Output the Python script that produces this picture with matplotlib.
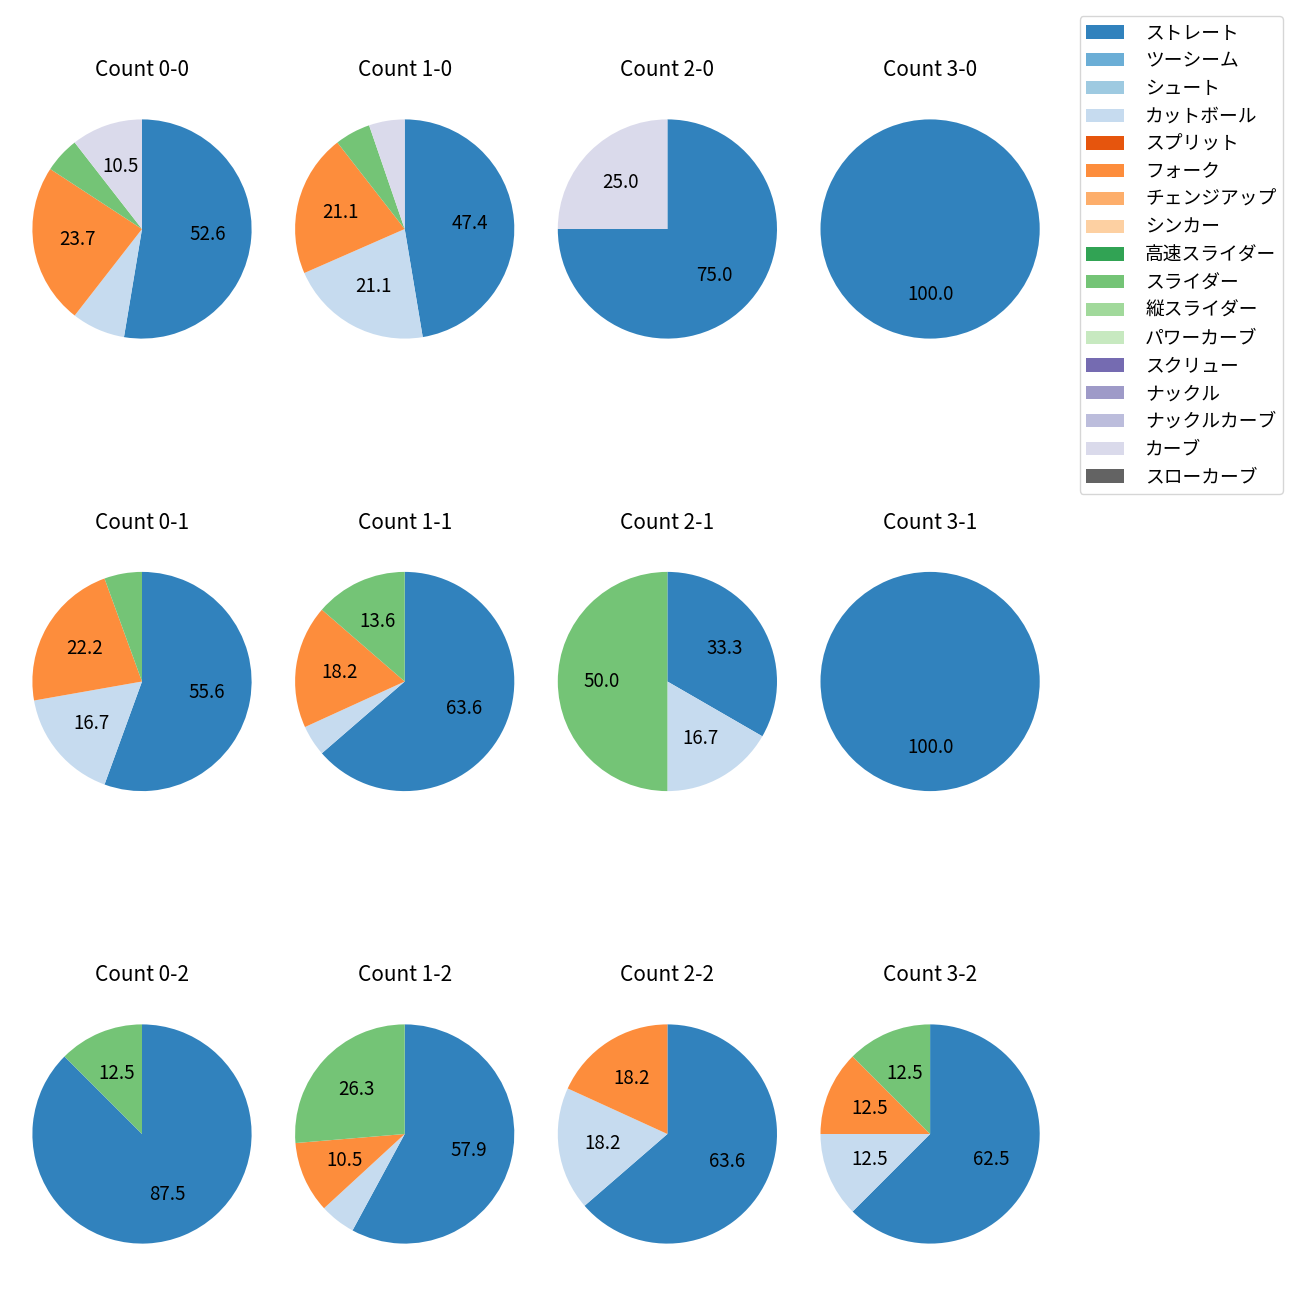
import matplotlib
matplotlib.use("Agg")
import matplotlib.pyplot as plt
from matplotlib.patches import Patch

plt.rcParams['font.family'] = ['Noto Sans CJK JP', 'DejaVu Sans']

# 球種（凡例の順）
pitch_types = ["ストレート", "ツーシーム", "シュート", "カットボール", "スプリット",
               "フォーク", "チェンジアップ", "シンカー", "高速スライダー", "スライダー",
               "縦スライダー", "パワーカーブ", "スクリュー", "ナックル", "ナックルカーブ",
               "カーブ", "スローカーブ"]

# カウント別の球数（pitch_types と同じ順）
counts = ["0-0", "1-0", "2-0", "3-0",
          "0-1", "1-1", "2-1", "3-1",
          "0-2", "1-2", "2-2", "3-2"]
pitches = {
    "0-0": [20, 0, 0, 3, 0, 9, 0, 0, 0, 2, 0, 0, 0, 0, 0, 4, 0],
    "1-0": [9, 0, 0, 4, 0, 4, 0, 0, 0, 1, 0, 0, 0, 0, 0, 1, 0],
    "2-0": [3, 0, 0, 0, 0, 0, 0, 0, 0, 0, 0, 0, 0, 0, 0, 1, 0],
    "3-0": [1, 0, 0, 0, 0, 0, 0, 0, 0, 0, 0, 0, 0, 0, 0, 0, 0],
    "0-1": [10, 0, 0, 3, 0, 4, 0, 0, 0, 1, 0, 0, 0, 0, 0, 0, 0],
    "1-1": [14, 0, 0, 1, 0, 4, 0, 0, 0, 3, 0, 0, 0, 0, 0, 0, 0],
    "2-1": [2, 0, 0, 1, 0, 0, 0, 0, 0, 3, 0, 0, 0, 0, 0, 0, 0],
    "3-1": [1, 0, 0, 0, 0, 0, 0, 0, 0, 0, 0, 0, 0, 0, 0, 0, 0],
    "0-2": [7, 0, 0, 0, 0, 0, 0, 0, 0, 1, 0, 0, 0, 0, 0, 0, 0],
    "1-2": [11, 0, 0, 1, 0, 2, 0, 0, 0, 5, 0, 0, 0, 0, 0, 0, 0],
    "2-2": [7, 0, 0, 2, 0, 2, 0, 0, 0, 0, 0, 0, 0, 0, 0, 0, 0],
    "3-2": [5, 0, 0, 1, 0, 1, 0, 0, 0, 1, 0, 0, 0, 0, 0, 0, 0],
}

cmap = plt.get_cmap("tab20c")
colors = [cmap(i) for i in range(len(pitch_types))]

W = H = 1300
fig = plt.figure(figsize=(13, 13), dpi=100)

S = 274  # 軸の大きさ(px)
for i, c in enumerate(counts):
    row, col = divmod(i, 4)
    cx = 142 + 262.7 * col
    cy = 229 + 452.5 * row
    ax = fig.add_axes([(cx - S / 2) / W, 1 - (cy + S / 2) / H, S / W, S / H])
    vals = pitches[c]
    idx = [k for k, v in enumerate(vals) if v > 0]
    ax.pie([vals[k] for k in idx], colors=[colors[k] for k in idx],
           startangle=90, counterclock=False,
           autopct=lambda p: f"{p:.1f}" if p >= 10 else "",
           textprops={"fontsize": 13.5})
    ax.set_title(f"Count {c}", fontsize=15, pad=11.5)

handles = [Patch(facecolor=colors[k]) for k in range(len(pitch_types))]
fig.legend(handles, pitch_types, loc="upper right",
           bbox_to_anchor=(1283 / W, 1 - 16 / H), borderaxespad=0,
           fontsize=13.5, labelspacing=0.36, handletextpad=1.15,
           borderpad=0.35)

plt.savefig("out.png")
plt.close()
